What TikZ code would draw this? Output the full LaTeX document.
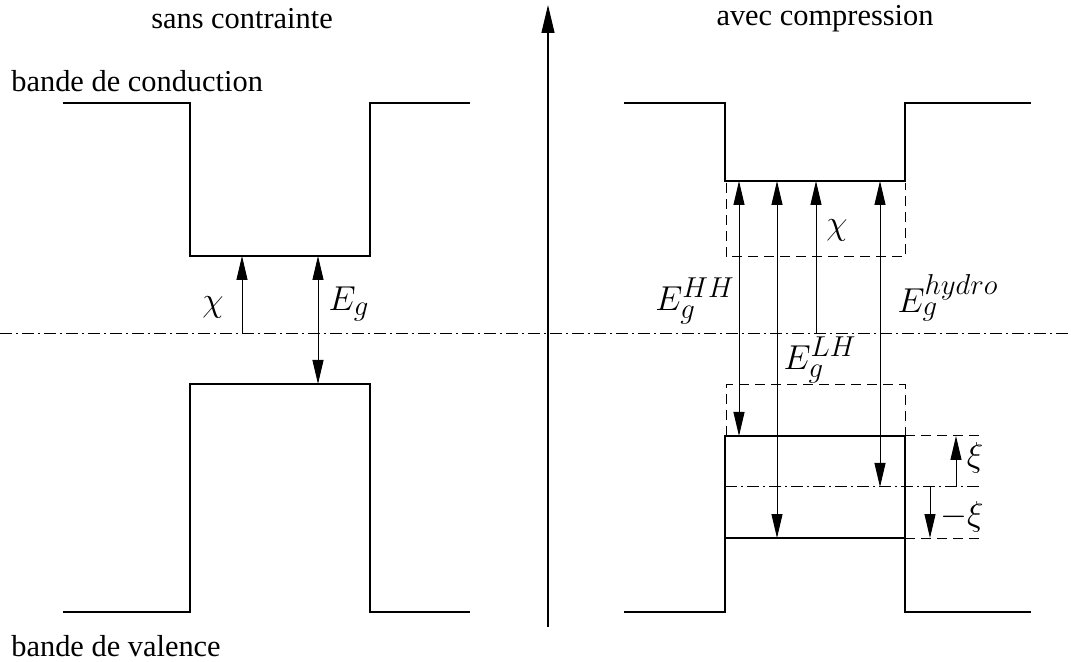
\documentclass[tikz,border=0pt]{standalone}
\usepackage{fontspec}
\setmainfont{Liberation Serif}
\usetikzlibrary{arrows.meta}
\begin{document}
\begin{tikzpicture}[x=0.5pt,y=-0.5pt,
  band/.style={line width=1.4pt, line join=miter},
  dd/.style={line width=0.5pt, dash pattern=on 6pt off 2pt on 1pt off 2pt},
  dsh/.style={line width=0.5pt, dash pattern=on 5pt off 3pt},
  arr/.style={line width=0.5pt, -{Triangle[length=12pt,width=5.5pt]}},
  darr/.style={line width=0.5pt, {Triangle[length=12pt,width=5.5pt]}-{Triangle[length=12pt,width=5.5pt]}},
  txt/.style={font=\fontsize{15.2}{18}\selectfont, inner sep=0pt},
  lbl/.style={font=\fontsize{19}{22}\selectfont, inner sep=0pt}]
\useasboundingbox (0,0) rectangle (1071,662);
% vertical axis
\coordinate (axb) at (548,627);
\coordinate (axt) at (548,5);
\draw[line width=0.6pt, -{Triangle[length=14pt,width=6.5pt]}] (axb) -- (axt);
% reference dash-dot line
\coordinate (refL) at (0,334);
\coordinate (refR) at (1071,334);
\draw[dd] (refL) -- (refR);
% titles
\node[txt] (t1) at (242,19) {sans contrainte};
\node[txt] (t2) at (825,19) {avec compression};
\node[txt, anchor=west] (bc) at (11,81) {bande de conduction};
\node[txt, anchor=west] (bv) at (11,646) {bande de valence};
% left bands
\draw[band] (63,103) -- (190,103) -- (190,256) -- (370,256) -- (370,103) -- (470,103);
\draw[band] (63,612) -- (190,612) -- (190,384) -- (370,384) -- (370,612) -- (470,612);
\coordinate (lchi0) at (242,334);
\coordinate (lchi1) at (242,256);
\coordinate (leg0) at (318,384);
\coordinate (leg1) at (318,256);
\draw[arr] (lchi0) -- (lchi1);
\draw[darr] (leg0) -- (leg1);
\node[lbl] (lchi) at (213,307) {$\chi$};
\node[lbl] (leg) at (349,304) {$E_g$};
% right bands
\draw[band] (624,103) -- (725,103) -- (725,181) -- (905,181) -- (905,103) -- (1031,103);
\draw[band] (624,612) -- (725,612) -- (725,436) -- (905,436) -- (905,612) -- (1031,612);
\draw[band] (725,538) -- (905,538);
% dashed boxes
\draw[dsh] (726,183) -- (726,257) -- (905,257) -- (905,183);
\draw[dsh] (726,436) -- (726,385) -- (905,385) -- (905,436);
\draw[dsh] (905,436) -- (980,436);
\draw[dsh] (905,538) -- (980,538);
\draw[dd] (725,487) -- (982,487);
% arrows right
\coordinate (hh0) at (739,436);  \coordinate (hh1) at (739,181);
\coordinate (lh0) at (777,538);  \coordinate (lh1) at (777,181);
\coordinate (rc0) at (816,334);  \coordinate (rc1) at (816,181);
\coordinate (hy0) at (880,487);  \coordinate (hy1) at (880,181);
\draw[darr] (hh0) -- (hh1);
\draw[darr] (lh0) -- (lh1);
\draw[arr] (rc0) -- (rc1);
\draw[darr] (hy0) -- (hy1);
\coordinate (xi0) at (956,487); \coordinate (xi1) at (956,436);
\coordinate (mxi0) at (930,487); \coordinate (mxi1) at (930,538);
\draw[arr] (xi0) -- (xi1);
\draw[arr] (mxi0) -- (mxi1);
\node[lbl] (ehh) at (695,301) {$E_g^{HH}$};
\node[lbl] (elh) at (820,360) {$E_g^{LH}$};
\node[lbl] (ehy) at (948,298) {$E_g^{hydro}$};
\node[lbl] (rchi) at (837,230) {$\chi$};
\node[lbl] (xi) at (975,458) {$\xi$};
\node[lbl] (mxi) at (962,517) {$-\xi$};
\end{tikzpicture}
\end{document}
